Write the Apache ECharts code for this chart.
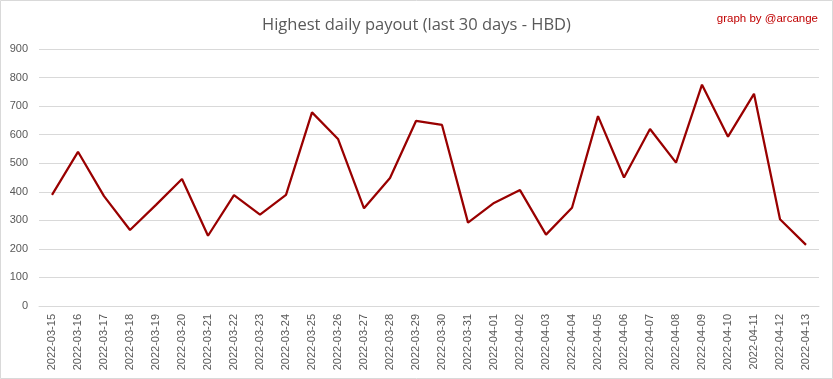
<!DOCTYPE html>
<html>
<head>
<meta charset="utf-8">
<script src="https://cdn.jsdelivr.net/npm/echarts@6/dist/echarts.min.js"></script>
<style>
html,body{margin:0;padding:0;background:#fff;}
#c{width:833px;height:379px;}
</style>
</head>
<body>
<div id="c"></div>
<script>
const categories = ["2022-03-15","2022-03-16","2022-03-17","2022-03-18","2022-03-19","2022-03-20","2022-03-21","2022-03-22","2022-03-23","2022-03-24","2022-03-25","2022-03-26","2022-03-27","2022-03-28","2022-03-29","2022-03-30","2022-03-31","2022-04-01","2022-04-02","2022-04-03","2022-04-04","2022-04-05","2022-04-06","2022-04-07","2022-04-08","2022-04-09","2022-04-10","2022-04-11","2022-04-12","2022-04-13"];
const payout = [389,540,385,266,354,445,246,388,320,389,678,585,342,448,648,634,292,361,406,250,344,665,450,620,502,775,593,743,304,214];
const yTicks = {min:0, max:900, interval:100};
const titleText = "Highest daily payout (last 30 days - HBD)";
const creditText = "graph by @arcange";

const chart = echarts.init(document.getElementById('c'), null, {renderer:'canvas'});
chart.setOption({
  animation:false,
  backgroundColor:'#fff',
  title:[{
    text:titleText, left:'center', top:12,
    textStyle:{fontFamily:'Open Sans', fontWeight:'normal', fontSize:16.5, color:'#595959'}
  },{
    text:creditText, right:10, top:8,
    textStyle:{fontFamily:'Liberation Sans', fontWeight:'normal', fontSize:11.5, color:'#c00000'}
  }],
  graphic:[{type:'rect', shape:{x:0.5,y:0.5,width:832,height:378}, style:{fill:'none', stroke:'#d9d9d9', lineWidth:1}, silent:true}],
  grid:{left:39, right:14, top:49, bottom:73},
  xAxis:{
    type:'category', data:categories, boundaryGap:true,
    axisLine:{lineStyle:{color:'#d9d9d9'}},
    axisTick:{show:false},
    axisLabel:{rotate:90, fontFamily:'Liberation Sans', fontSize:11, color:'#595959', margin:8, interval:0}
  },
  yAxis:{
    type:'value', min:yTicks.min, max:yTicks.max, interval:yTicks.interval,
    axisLine:{show:false}, axisTick:{show:false},
    splitLine:{lineStyle:{color:'#d9d9d9', width:1}},
    axisLabel:{fontFamily:'Liberation Sans', fontSize:11, color:'#595959', margin:11}
  },
  series:[{
    type:'line', data:payout, symbol:'none',
    lineStyle:{color:'#990000', width:2.25}
  }]
});
</script>
</body>
</html>
